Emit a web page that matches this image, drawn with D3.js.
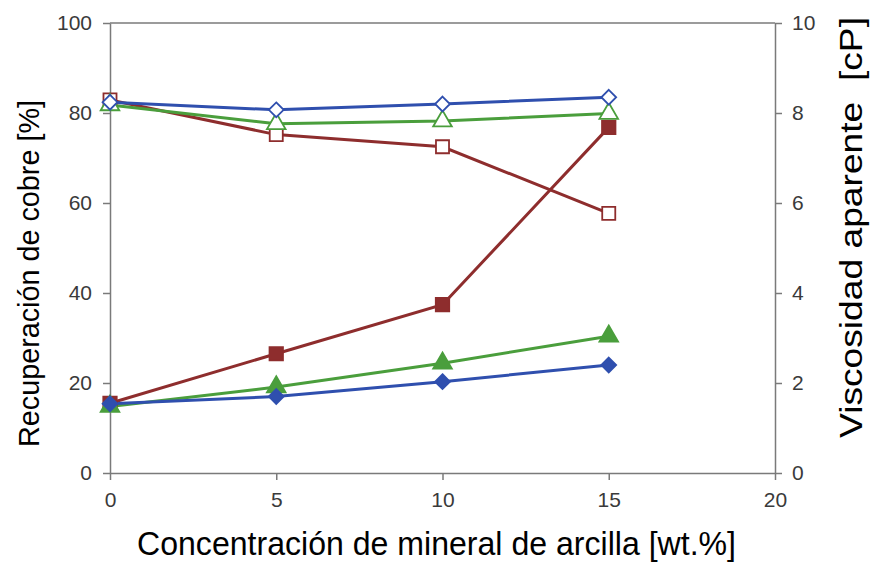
<!DOCTYPE html>
<html>
<head>
<meta charset="utf-8">
<script src="https://cdn.jsdelivr.net/npm/d3@7/dist/d3.min.js"></script>
<style>
  html, body { margin: 0; padding: 0; background: #fff; }
  svg { display: block; }
  text { font-family: "Liberation Sans", Arial, sans-serif; }
</style>
</head>
<body>
<svg id="chart" width="876" height="577"></svg>
<script>
// Data
const concentration = [0, 5, 10, 15];
const xTicks = [0, 5, 10, 15, 20];
const leftTicks = [0, 20, 40, 60, 80, 100];
const rightTicks = [0, 2, 4, 6, 8, 10];

// Recuperación de cobre [%] (left axis, open markers)
const recBlue  = [82.4, 80.7, 82.0, 83.5];
const recGreen = [81.8, 77.6, 78.2, 79.9];
const recRed   = [82.9, 75.2, 72.5, 57.7];

// Viscosidad aparente [cP] (right axis, filled markers)
const viscRed   = [1.55, 2.65, 3.74, 7.68];
const viscGreen = [1.48, 1.91, 2.44, 3.04];
const viscBlue  = [1.54, 1.70, 2.03, 2.40];

const colors = { blue: "#2f4fae", green: "#4a9e3c", red: "#8e2d2d" };

const svg = d3.select("#chart");
const m = { left: 110, right: 775, top: 23, bottom: 473 };

const x = d3.scaleLinear().domain([0, 20]).range([m.left, m.right]);
const yL = d3.scaleLinear().domain([0, 100]).range([m.bottom, m.top]);
const yR = d3.scaleLinear().domain([0, 10]).range([m.bottom, m.top]);

const axisColor = "#7a7a7a";
const tickText = "#3a3a3a";

// Top border
svg.append("line")
  .attr("x1", m.left).attr("x2", m.right)
  .attr("y1", m.top).attr("y2", m.top)
  .attr("stroke", axisColor).attr("stroke-width", 1.5);

function styleAxis(g) {
  g.select(".domain").attr("stroke", axisColor).attr("stroke-width", 1.5);
  g.selectAll(".tick line").attr("stroke", axisColor).attr("stroke-width", 1.5);
  g.selectAll(".tick text").attr("fill", tickText)
    .style("font-size", "21px");
}

svg.append("g").attr("transform", `translate(0,${m.bottom})`)
  .call(d3.axisBottom(x).tickValues(xTicks).tickSize(7).tickPadding(12).tickSizeOuter(0))
  .call(styleAxis);

svg.append("g").attr("transform", `translate(${m.left},0)`)
  .call(d3.axisLeft(yL).tickValues(leftTicks).tickSize(7).tickPadding(11).tickSizeOuter(0))
  .call(styleAxis);

svg.append("g").attr("transform", `translate(${m.right},0)`)
  .call(d3.axisRight(yR).tickValues(rightTicks).tickSize(7).tickPadding(10).tickSizeOuter(0))
  .call(styleAxis);

const diamond = d3.symbolDiamond2 || {
  draw(ctx, size) {
    const y = Math.sqrt(size) * 0.62625;
    ctx.moveTo(0, -y); ctx.lineTo(y, 0); ctx.lineTo(0, y); ctx.lineTo(-y, 0); ctx.closePath();
  }
};

// Series
const series = [
  { vals: viscRed,   y: yR, color: colors.red,   shape: d3.symbolSquare,   size: 180, filled: true },
  { vals: viscGreen, y: yR, color: colors.green, shape: d3.symbolTriangle, size: 150, filled: true },
  { vals: viscBlue,  y: yR, color: colors.blue,  shape: diamond,           size: 140, filled: true },
  { vals: recRed,    y: yL, color: colors.red,   shape: d3.symbolSquare,   size: 170, filled: false },
  { vals: recGreen,  y: yL, color: colors.green, shape: d3.symbolTriangle, size: 150, filled: false },
  { vals: recBlue,   y: yL, color: colors.blue,  shape: diamond,           size: 140, filled: false },
];

series.forEach(s => {
  const line = d3.line().x((d, i) => x(concentration[i])).y(d => s.y(d));
  svg.append("path").datum(s.vals)
    .attr("d", line)
    .attr("fill", "none")
    .attr("stroke", s.color)
    .attr("stroke-width", 3);
});

series.forEach(s => {
  const sym = d3.symbol().type(s.shape).size(s.size);
  svg.append("g").selectAll("path").data(s.vals).join("path")
    .attr("transform", (d, i) => `translate(${x(concentration[i])},${s.y(d)})`)
    .attr("d", sym)
    .attr("fill", s.filled ? s.color : "#fff")
    .attr("stroke", s.color)
    .attr("stroke-width", 1.8);
});

// Axis titles
svg.append("text")
  .attr("x", 137).attr("y", 555)
  .attr("textLength", 599).attr("lengthAdjust", "spacingAndGlyphs")
  .style("font-size", "33px").attr("fill", "#000")
  .text("Concentración de mineral de arcilla [wt.%]");

svg.append("text")
  .attr("transform", `translate(39,447) rotate(-90)`)
  .attr("textLength", 347).attr("lengthAdjust", "spacingAndGlyphs")
  .style("font-size", "30px").attr("fill", "#000")
  .text("Recuperación de cobre [%]");

svg.append("text")
  .attr("transform", `translate(862,438) rotate(-90)`)
  .attr("textLength", 421).attr("lengthAdjust", "spacingAndGlyphs")
  .style("font-size", "31px").attr("fill", "#000")
  .style("white-space", "pre")
  .text("Viscosidad aparente  [cP]");
</script>
</body>
</html>
